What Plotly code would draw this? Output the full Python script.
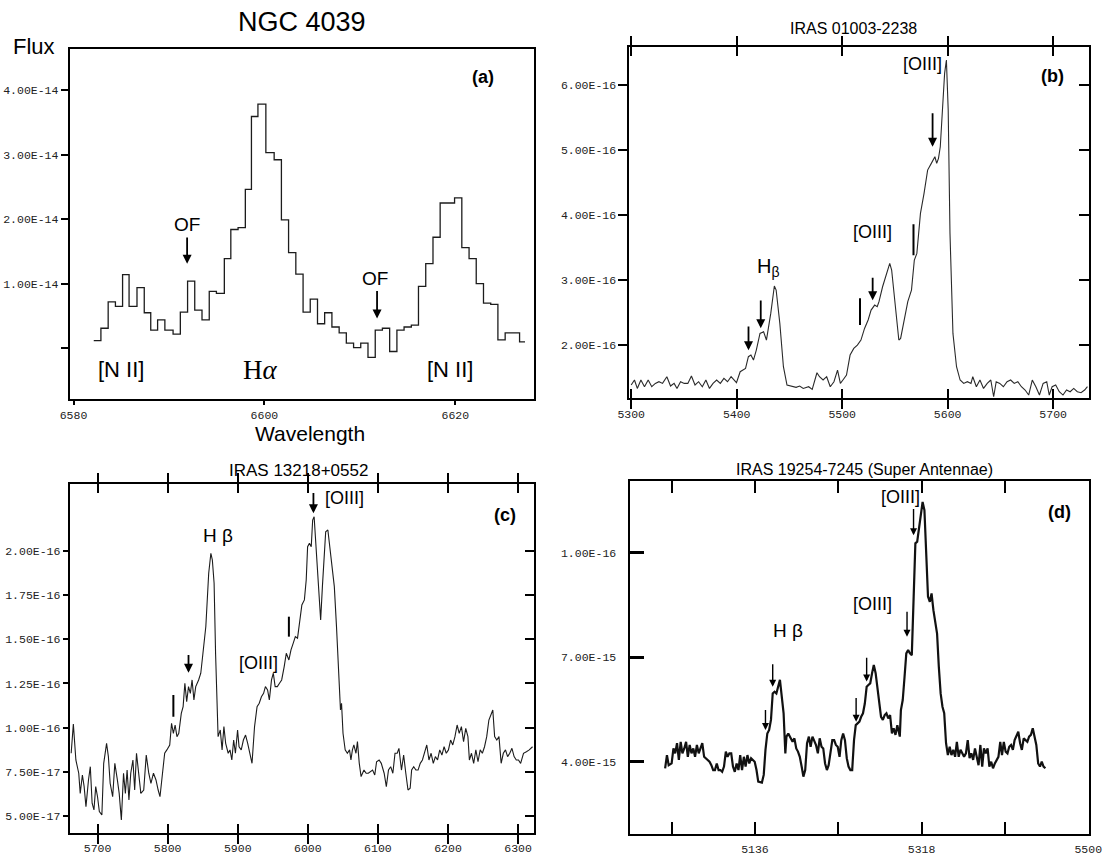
import plotly.graph_objects as go

W, H = 1106, 857

# ---------------- data ----------------
# Panel (a) NGC 4039 : step spectrum, flux in units of 1e-14
WL_A = [6582.12, 6582.87, 6583.63, 6584.39, 6585.14, 6585.82, 6586.65, 6587.41, 6588.09, 6588.81,
        6589.57, 6590.43, 6591.19, 6591.95, 6592.70, 6593.46, 6594.22, 6594.97, 6595.80, 6596.48,
        6597.24, 6598.00, 6598.64, 6599.32, 6600.15, 6601.02, 6601.78, 6602.53, 6603.29, 6604.05,
        6604.80, 6605.56, 6606.31, 6607.07, 6607.83, 6608.58, 6609.34, 6610.09, 6610.85, 6611.61,
        6612.36, 6613.12, 6613.88, 6614.63, 6615.39, 6616.14, 6616.90, 6617.66, 6618.41, 6619.17,
        6619.92, 6620.68, 6621.44, 6622.19, 6622.95, 6623.71, 6624.46, 6625.22, 6625.97, 6626.73,
        6627.30]
FLUX_A = [0.12, 0.31, 0.72, 0.65, 1.14, 0.65, 0.94, 0.55, 0.28, 0.44,
          0.28, 0.22, 0.56, 1.04, 0.59, 0.44, 0.88, 0.85, 1.39, 1.84,
          1.87, 2.46, 3.59, 3.78, 3.03, 2.92, 1.99, 1.48, 1.15, 0.56,
          0.76, 0.38, 0.55, 0.33, 0.24, 0.08, 0.01, 0.08, -0.14, 0.28,
          0.31, -0.05, 0.28, 0.33, 0.36, 0.96, 1.31, 1.72, 2.25, 2.25,
          2.33, 1.56, 1.39, 1.00, 0.70, 0.68, 0.13, 0.24, 0.24, 0.10,
          0.10]

# Panel (b) IRAS 01003-2238 : flux in units of 1e-16
WL_B = [5300.0, 5303.1, 5305.8, 5309.2, 5312.6, 5316.1, 5319.5, 5322.9, 5326.3, 5329.7,
        5333.8, 5337.3, 5340.7, 5343.4, 5346.8, 5350.3, 5353.7, 5357.1, 5360.5, 5363.9,
        5367.4, 5370.8, 5374.2, 5377.6, 5381.0, 5384.5, 5387.9, 5391.3, 5394.7, 5399.8,
        5403.3, 5408.4, 5411.1, 5413.5, 5415.9, 5418.6, 5422.1, 5425.5, 5428.2, 5432.3,
        5435.7, 5437.4, 5440.9, 5444.3, 5447.7, 5452.8, 5456.3, 5459.7, 5463.1, 5468.2,
        5471.6, 5476.1, 5478.5, 5481.9, 5485.3, 5488.7, 5492.2, 5495.6, 5498.3, 5500.7,
        5504.1, 5507.5, 5511.0, 5514.4, 5517.8, 5521.2, 5524.6, 5527.4, 5530.8, 5533.2,
        5534.9, 5538.3, 5541.7, 5545.1, 5546.9, 5549.6, 5552.0, 5553.7, 5555.4, 5558.8,
        5562.2, 5565.7, 5568.4, 5570.8, 5574.2, 5577.6, 5581.0, 5584.5, 5587.9, 5589.6,
        5591.3, 5593.0, 5594.7, 5597.1, 5598.8, 5600.5, 5602.2, 5605.0, 5608.4, 5611.8,
        5615.2, 5618.7, 5622.1, 5623.8, 5627.2, 5630.6, 5634.0, 5637.5, 5640.9, 5643.6,
        5646.0, 5649.4, 5652.8, 5656.3, 5659.7, 5663.1, 5666.5, 5669.9, 5673.4, 5676.8,
        5680.2, 5683.6, 5687.0, 5690.5, 5693.9, 5696.3, 5699.0, 5702.4, 5705.8, 5709.3,
        5712.7, 5716.1, 5719.5, 5722.9, 5726.4, 5729.8, 5732.5]
FLUX_B = [1.385, 1.462, 1.333, 1.462, 1.359, 1.462, 1.359, 1.410, 1.436, 1.410,
          1.513, 1.369, 1.410, 1.333, 1.436, 1.410, 1.410, 1.523, 1.385, 1.436,
          1.359, 1.462, 1.333, 1.410, 1.462, 1.410, 1.487, 1.436, 1.513, 1.421,
          1.590, 1.641, 1.821, 1.846, 1.769, 1.923, 2.179, 2.205, 2.077, 2.487,
          2.908, 2.846, 2.333, 1.667, 1.385, 1.359, 1.349, 1.369, 1.333, 1.359,
          1.318, 1.574, 1.513, 1.462, 1.513, 1.359, 1.436, 1.615, 1.410, 1.462,
          1.538, 1.846, 1.949, 2.000, 2.077, 2.256, 2.385, 2.538, 2.615, 2.590,
          2.667, 2.897, 3.077, 3.256, 3.154, 2.692, 2.308, 2.077, 2.103, 2.385,
          2.667, 2.846, 3.308, 3.410, 4.026, 4.333, 4.692, 4.795, 4.897, 4.795,
          4.872, 5.051, 5.615, 6.179, 6.385, 5.615, 3.718, 2.179, 1.667, 1.462,
          1.410, 1.436, 1.410, 1.513, 1.359, 1.462, 1.333, 1.410, 1.462, 1.205,
          1.436, 1.410, 1.359, 1.436, 1.462, 1.410, 1.436, 1.359, 1.308, 1.231,
          1.462, 1.359, 1.231, 1.410, 1.436, 1.231, 1.359, 1.385, 1.282, 1.231,
          1.308, 1.282, 1.333, 1.282, 1.267, 1.308, 1.359]

# Panel (c) IRAS 13218+0552 : flux in units of 1e-16
WL_C = [5662.4, 5665.5, 5669.1, 5673.2, 5675.3, 5678.4, 5680.9, 5683.5, 5687.1, 5689.7,
        5692.3, 5694.9, 5697.4, 5700.0, 5702.6, 5706.2, 5708.8, 5712.9, 5715.5, 5718.0,
        5721.6, 5724.7, 5728.3, 5730.9, 5734.0, 5737.1, 5739.7, 5742.2, 5744.8, 5747.4,
        5750.5, 5753.0, 5755.6, 5758.2, 5761.8, 5765.9, 5769.5, 5773.1, 5776.2, 5779.8,
        5783.4, 5786.5, 5789.1, 5792.7, 5795.8, 5798.9, 5803.0, 5805.6, 5808.2, 5810.7,
        5813.3, 5815.9, 5819.5, 5822.1, 5824.6, 5827.2, 5829.8, 5832.4, 5834.9, 5837.5,
        5840.1, 5844.2, 5847.3, 5850.4, 5854.5, 5858.6, 5861.7, 5863.8, 5866.3, 5868.4,
        5870.0, 5872.0, 5875.1, 5877.7, 5880.3, 5882.8, 5886.4, 5889.0, 5891.6, 5894.2,
        5896.7, 5899.8, 5901.9, 5905.0, 5908.1, 5911.2, 5914.2, 5917.3, 5920.4, 5924.0,
        5927.6, 5930.7, 5933.8, 5936.9, 5939.5, 5942.6, 5945.1, 5948.2, 5950.8, 5953.4,
        5956.5, 5959.6, 5962.7, 5966.3, 5969.3, 5973.0, 5976.0, 5979.1, 5982.2, 5985.3,
        5988.4, 5991.5, 5995.1, 5997.7, 5999.7, 6002.3, 6004.9, 6006.9, 6009.0, 6011.1,
        6014.2, 6016.2, 6018.3, 6020.8, 6023.4, 6025.5, 6028.6, 6031.7, 6034.8, 6037.8,
        6040.9, 6044.0, 6046.6, 6048.1, 6050.2, 6053.3, 6056.4, 6059.5, 6061.5, 6063.6,
        6065.7, 6068.7, 6070.8, 6073.4, 6076.0, 6080.1, 6083.2, 6086.3, 6089.3, 6092.4,
        6095.5, 6098.1, 6101.7, 6104.8, 6108.9, 6112.0, 6115.1, 6118.2, 6121.3, 6124.4,
        6127.5, 6130.0, 6133.6, 6136.7, 6139.8, 6142.9, 6146.0, 6148.1, 6151.1, 6154.2,
        6157.3, 6160.4, 6163.5, 6166.6, 6169.7, 6172.8, 6175.9, 6179.0, 6182.0, 6185.1,
        6188.2, 6191.3, 6194.4, 6197.5, 6200.6, 6203.7, 6206.8, 6209.9, 6213.0, 6216.0,
        6219.1, 6222.2, 6225.3, 6228.4, 6230.5, 6233.5, 6236.6, 6239.7, 6242.8, 6245.9,
        6249.0, 6252.1, 6255.2, 6258.3, 6261.4, 6263.9, 6266.5, 6269.6, 6272.7, 6275.8,
        6278.9, 6282.0, 6285.0, 6288.1, 6291.2, 6294.3, 6297.4, 6300.5, 6303.6, 6307.7,
        6311.8, 6315.9, 6320.6]
FLUX_C = [0.855, 1.021, 0.817, 0.742, 0.628, 0.732, 0.666, 0.553, 0.704, 0.779,
          0.572, 0.534, 0.666, 0.609, 0.525, 0.506, 0.798, 0.911, 0.836, 0.685,
          0.609, 0.798, 0.704, 0.628, 0.477, 0.742, 0.628, 0.760, 0.591, 0.742,
          0.817, 0.647, 0.855, 0.742, 0.628, 0.647, 0.845, 0.742, 0.685, 0.742,
          0.704, 0.647, 0.609, 0.742, 0.855, 0.874, 0.902, 1.025, 0.968, 1.015,
          0.949, 0.968, 1.081, 1.119, 1.251, 1.147, 1.232, 1.194, 1.270, 1.157,
          1.232, 1.270, 1.308, 1.421, 1.572, 1.874, 1.987, 1.949, 1.817, 1.421,
          1.157, 0.949, 0.987, 0.874, 1.006, 0.911, 0.855, 0.874, 0.817, 0.930,
          0.855, 0.987, 0.892, 0.874, 0.930, 0.958, 0.911, 0.855, 0.798, 1.006,
          1.119, 1.138, 1.175, 1.194, 1.232, 1.213, 1.157, 1.270, 1.308, 1.232,
          1.232, 1.251, 1.270, 1.345, 1.421, 1.383, 1.440, 1.477, 1.515, 1.506,
          1.609, 1.694, 1.723, 1.836, 2.024, 2.043, 2.024, 2.175, 2.194, 2.062,
          1.836, 1.760, 1.609, 1.798, 1.949, 2.109, 2.119, 2.006, 1.930, 1.798,
          1.572, 1.308, 1.100, 1.138, 0.968, 0.874, 0.855, 0.874, 0.817, 0.874,
          0.902, 0.855, 0.921, 0.798, 0.723, 0.760, 0.742, 0.742, 0.751, 0.760,
          0.732, 0.807, 0.817, 0.798, 0.742, 0.666, 0.760, 0.779, 0.742, 0.855,
          0.855, 0.883, 0.760, 0.845, 0.742, 0.647, 0.657, 0.760, 0.779, 0.760,
          0.760, 0.798, 0.817, 0.855, 0.902, 0.817, 0.855, 0.798, 0.836, 0.817,
          0.874, 0.845, 0.892, 0.855, 0.874, 0.930, 0.902, 0.949, 1.015, 0.968,
          1.006, 0.921, 0.996, 0.949, 0.817, 0.855, 0.798, 0.874, 0.807, 0.874,
          0.855, 0.892, 0.949, 1.043, 1.081, 1.100, 0.949, 0.930, 0.949, 0.798,
          0.855, 0.874, 0.836, 0.855, 0.883, 0.836, 0.817, 0.817, 0.798, 0.855,
          0.864, 0.874, 0.892]

# Panel (d) IRAS 19254-7245 : flux in units of 1e-15
WL_D = [5037.9, 5039.9, 5041.8, 5045.0, 5047.0, 5048.9, 5050.9, 5052.9, 5054.9, 5056.8,
        5058.8, 5060.8, 5062.7, 5064.7, 5066.7, 5068.7, 5070.6, 5072.6, 5074.6, 5076.6,
        5078.5, 5080.5, 5082.5, 5084.4, 5086.4, 5088.4, 5090.4, 5092.3, 5094.3, 5096.3,
        5098.2, 5100.2, 5102.2, 5104.2, 5106.1, 5108.1, 5110.1, 5112.0, 5114.0, 5116.0,
        5118.0, 5119.9, 5121.9, 5123.9, 5125.8, 5127.8, 5129.8, 5131.8, 5133.7, 5135.7,
        5137.7, 5139.6, 5143.6, 5145.6, 5147.5, 5149.5, 5151.5, 5153.5, 5155.4, 5157.4,
        5159.4, 5161.3, 5163.3, 5165.3, 5167.3, 5169.2, 5170.4, 5172.4, 5175.1, 5177.1,
        5179.1, 5181.1, 5183.0, 5185.0, 5187.0, 5188.9, 5190.9, 5192.9, 5194.9, 5196.8,
        5198.8, 5200.8, 5202.7, 5204.7, 5206.7, 5208.7, 5210.6, 5212.6, 5214.6, 5216.5,
        5218.5, 5220.5, 5222.5, 5224.4, 5226.4, 5228.4, 5230.3, 5232.3, 5234.3, 5236.3,
        5238.2, 5240.2, 5242.2, 5244.2, 5246.1, 5248.1, 5250.1, 5252.0, 5254.0, 5256.0,
        5258.0, 5259.9, 5261.9, 5263.9, 5265.8, 5267.8, 5269.8, 5271.8, 5273.7, 5275.7,
        5277.7, 5279.6, 5281.6, 5283.6, 5285.6, 5287.5, 5289.5, 5291.5, 5294.2, 5295.4,
        5297.4, 5299.4, 5301.3, 5303.3, 5305.3, 5307.3, 5309.2, 5311.2, 5313.2, 5315.1,
        5317.1, 5319.1, 5321.1, 5323.0, 5325.0, 5327.0, 5328.9, 5330.9, 5332.9, 5334.9,
        5336.8, 5338.8, 5340.8, 5342.7, 5344.7, 5346.7, 5348.7, 5350.6, 5352.6, 5354.6,
        5356.5, 5358.5, 5360.5, 5362.5, 5364.4, 5366.4, 5368.4, 5370.4, 5372.3, 5374.3,
        5376.3, 5378.2, 5380.2, 5382.2, 5384.2, 5386.1, 5388.1, 5390.1, 5392.0, 5394.0,
        5396.0, 5398.0, 5399.9, 5401.9, 5403.9, 5405.8, 5407.8, 5409.8, 5411.8, 5413.7,
        5415.7, 5417.7, 5419.6, 5421.6, 5423.6, 5425.6, 5427.5, 5429.5, 5431.5, 5433.5,
        5435.4, 5437.4, 5439.4, 5441.3, 5443.3, 5445.3, 5447.3, 5449.2, 5451.2, 5453.2]
FLUX_D = [3.81, 4.19, 3.90, 3.95, 4.38, 4.24, 4.53, 4.05, 4.57, 4.24,
          4.38, 4.57, 4.14, 4.48, 4.24, 4.38, 4.14, 4.48, 4.24, 4.43,
          4.53, 4.14, 4.10, 4.05, 4.00, 3.90, 3.76, 3.76, 3.95, 3.76,
          3.76, 3.71, 3.86, 4.29, 4.14, 4.24, 4.24, 3.86, 3.71, 3.95,
          3.76, 4.19, 3.76, 4.14, 3.86, 4.19, 3.95, 4.10, 4.05, 4.00,
          3.76, 3.43, 3.40, 3.62, 4.34, 4.81, 4.91, 5.20, 5.96, 6.01,
          5.96, 6.15, 6.35, 5.87, 5.39, 4.24, 4.72, 4.81, 4.67, 4.57,
          4.67, 4.38, 4.29, 4.14, 3.86, 3.57, 3.76, 4.53, 4.72, 4.43,
          4.72, 4.62, 4.48, 4.24, 4.67, 4.43, 4.38, 3.95, 3.76, 3.90,
          4.29, 4.62, 4.62, 4.48, 4.43, 4.14, 4.62, 4.81, 4.62, 4.10,
          3.86, 3.76, 3.76, 4.62, 5.05, 5.10, 5.15, 5.29, 5.39, 5.67,
          6.15, 6.20, 6.25, 6.54, 6.78, 6.54, 6.06, 5.58, 5.29, 5.20,
          5.34, 5.39, 5.24, 5.34, 4.81, 4.96, 4.77, 5.05, 4.72, 5.48,
          5.77, 6.44, 7.11, 7.21, 7.11, 7.06, 8.55, 10.27, 10.32, 10.65,
          11.03, 11.46, 11.22, 9.79, 8.74, 8.59, 8.83, 8.35, 8.07, 7.68,
          6.73, 5.96, 5.58, 5.39, 4.53, 4.19, 4.43, 4.19, 4.34, 4.14,
          4.57, 4.14, 4.34, 4.24, 4.14, 4.24, 4.62, 4.10, 4.24, 4.05,
          4.38, 4.14, 3.90, 4.48, 3.86, 4.38, 4.24, 4.38, 3.86, 4.00,
          3.81, 3.95, 4.05, 4.14, 4.57, 4.19, 4.57, 4.29, 4.24, 4.43,
          4.48, 4.34, 4.62, 4.72, 4.86, 4.53, 4.34, 4.67, 4.62, 4.57,
          4.72, 4.77, 4.96, 4.72, 4.48, 3.95, 3.86, 4.00, 3.86, 3.81]

# tick values / labels
XT_A = [6580, 6600, 6620]
YT_A = [0, 1, 2, 3, 4]
YL_A = ["", "1.00E-14", "2.00E-14", "3.00E-14", "4.00E-14"]
XT_B = [5300, 5400, 5500, 5600, 5700]
YT_B = [2, 3, 4, 5, 6]
YL_B = ["2.00E-16", "3.00E-16", "4.00E-16", "5.00E-16", "6.00E-16"]
XT_C = [5700, 5800, 5900, 6000, 6100, 6200, 6300]
YT_C = [0.5, 0.75, 1.0, 1.25, 1.5, 1.75, 2.0]
YL_C = ["5.00E-17", "7.50E-17", "1.00E-16", "1.25E-16", "1.50E-16", "1.75E-16", "2.00E-16"]
XT_D = [5045, 5136, 5227, 5318, 5409, 5500]
XL_D = ["", "5136", "", "5318", "", "5500"]
YT_D = [4, 7, 10]
YL_D = ["4.00E-15", "7.00E-15", "1.00E-16"]

# ---------------- layout helpers (page pixels -> paper fractions) ----------------
def dom_x(p0, p1):
    return [p0 / W, p1 / W]

def dom_y(top, bottom):
    return [1 - bottom / H, 1 - top / H]

SANS = "Liberation Sans"
MONO = "Liberation Mono"
TICKFONT = dict(family=MONO, size=11.5, color="#222")

fig = go.Figure()
fig.add_trace(go.Scatter(x=WL_A, y=FLUX_A, mode="lines", line=dict(color="#1c1c1c", width=1.3, shape="hv"),
                         xaxis="x", yaxis="y", showlegend=False, hoverinfo="skip"))
fig.add_trace(go.Scatter(x=WL_B, y=FLUX_B, mode="lines", line=dict(color="#2a2a2a", width=1.1),
                         xaxis="x2", yaxis="y2", showlegend=False, hoverinfo="skip"))
fig.add_trace(go.Scatter(x=WL_C, y=FLUX_C, mode="lines", line=dict(color="#1c1c1c", width=1.1),
                         xaxis="x3", yaxis="y3", showlegend=False, hoverinfo="skip"))
fig.add_trace(go.Scatter(x=WL_D, y=FLUX_D, mode="lines", line=dict(color="#111", width=2.2),
                         xaxis="x4", yaxis="y4", showlegend=False, hoverinfo="skip"))
# empty traces to activate overlay axes (right-hand inside ticks)
fig.add_trace(go.Scatter(x=[None], y=[None], xaxis="x2", yaxis="y5", showlegend=False, hoverinfo="skip"))
fig.add_trace(go.Scatter(x=[None], y=[None], xaxis="x3", yaxis="y6", showlegend=False, hoverinfo="skip"))

common = dict(showline=True, linecolor="black", linewidth=2, showgrid=False, zeroline=False,
              tickfont=TICKFONT, tickcolor="black", fixedrange=True, automargin=False)

DA_X, DA_Y = dom_x(69.7, 533.6), dom_y(49, 399.3)
DB_X, DB_Y = dom_x(629.4, 1088.5), dom_y(46.7, 397.7)
DC_X, DC_Y = dom_x(69.7, 533.6), dom_y(484, 833.3)
DD_X, DD_Y = dom_x(629.5, 1088.7), dom_y(481, 834.3)

overlay = dict(showticklabels=False, showline=False, showgrid=False, zeroline=False,
               fixedrange=True, automargin=False, tickcolor="black")

fig.update_layout(
    template="none",
    width=W, height=H, autosize=False,
    margin=dict(l=0, r=0, t=0, b=0, pad=0),
    paper_bgcolor="white", plot_bgcolor="white",
    xaxis=dict(**common, domain=DA_X, anchor="y", range=[6579.6, 6628.2], tickvals=XT_A,
               ticks="outside", ticklen=4, tickwidth=1.5, mirror=True),
    yaxis=dict(**common, domain=DA_Y, anchor="x", range=[-0.79, 4.635], tickvals=YT_A, ticktext=YL_A,
               ticks="outside", ticklen=7, tickwidth=1.5, mirror=True),
    xaxis2=dict(**common, domain=DB_X, anchor="y2", range=[5298.3, 5733.5], tickvals=XT_B,
                ticks="inside", ticklen=9, tickwidth=2, mirror="allticks", ticklabelstandoff=4),
    yaxis2=dict(**common, domain=DB_Y, anchor="x2", range=[1.19, 6.59], tickvals=YT_B, ticktext=YL_B,
                ticks="outside", ticklen=9, tickwidth=2, mirror=True),
    yaxis5=dict(**overlay, overlaying="y2", anchor="x2", side="right", range=[1.19, 6.59], tickvals=YT_B,
                ticks="inside", ticklen=10, tickwidth=2),
    xaxis3=dict(**common, domain=DC_X, anchor="y3", range=[5660.3, 6322.1], tickvals=XT_C,
                ticks="inside", ticklen=9, tickwidth=2, mirror="allticks", ticklabelstandoff=3),
    yaxis3=dict(**common, domain=DC_Y, anchor="x3", range=[0.402, 2.379], tickvals=YT_C, ticktext=YL_C,
                ticks="outside", ticklen=5, tickwidth=2, mirror=True),
    yaxis6=dict(**overlay, overlaying="y3", anchor="x3", side="right", range=[0.402, 2.379], tickvals=YT_C,
                ticks="inside", ticklen=9, tickwidth=2),
    xaxis4=dict(**common, domain=DD_X, anchor="y4", range=[4999, 5500.5], tickvals=XT_D, ticktext=XL_D,
                ticks="inside", ticklen=12, tickwidth=2, mirror="allticks", ticklabelstandoff=3),
    yaxis4=dict(**common, domain=DD_Y, anchor="x4", range=[1.915, 12.06], tickvals=YT_D, ticktext=YL_D,
                ticks="inside", ticklen=14, tickwidth=3, mirror=True, ticklabelstandoff=9),
)

ann = []

def label(text, x, y, ax, size=18, family=SANS, bold=False):
    ann.append(dict(text=f"<b>{text}</b>" if bold else text, x=x, y=y,
                    xref=f"x{ax}" if ax > 1 else "x", yref=f"y{ax}" if ax > 1 else "y",
                    showarrow=False, xanchor="center", yanchor="middle",
                    font=dict(family=family, size=size, color="black")))

def arrow(x, y_head, y_tail, ax, width=1.8, head=2, size=1.0):
    xr = f"x{ax}" if ax > 1 else "x"
    yr = f"y{ax}" if ax > 1 else "y"
    ann.append(dict(text="", x=x, y=y_head, ax=x, ay=y_tail, xref=xr, yref=yr, axref=xr, ayref=yr,
                    showarrow=True, arrowhead=head, arrowsize=size, arrowwidth=width,
                    arrowcolor="black", standoff=0, startstandoff=0))

shapes = []

def bar(x, y0, y1, ax, width=2):
    xr = f"x{ax}" if ax > 1 else "x"
    yr = f"y{ax}" if ax > 1 else "y"
    shapes.append(dict(type="line", xref=xr, yref=yr, x0=x, x1=x, y0=y0, y1=y1,
                       line=dict(color="black", width=width)))

# panel (a)
label("(a)", 6622.9, 4.2, 1, size=18, bold=True)
label("OF", 6591.9, 1.92, 1, size=19)
arrow(6591.9, 1.31, 1.74, 1)
label("OF", 6611.6, 1.08, 1, size=19)
arrow(6611.8, 0.46, 0.91, 1)
label("[N II]", 6584.95, -0.33, 1, size=22)
label("H<i>α</i>", 6599.6, -0.33, 1, size=27, family="Liberation Serif")
label("[N II]", 6619.4, -0.33, 1, size=22)

# panel (b)
label("(b)", 5699.3, 6.14, 2, size=18, bold=True)
label("[OIII]", 5576.1, 6.33, 2, size=18)
arrow(5585.7, 5.05, 5.59, 2)
label("[OIII]", 5528.9, 3.74, 2, size=18)
bar(5567.6, 3.38, 3.86, 2)
label("H<sub>β</sub>", 5429.7, 3.2, 2, size=20)
arrow(5422.8, 2.26, 2.71, 2)
arrow(5411.2, 1.92, 2.31, 2)
bar(5516.9, 2.31, 2.72, 2)
arrow(5528.9, 2.69, 3.06, 2)

# panel (c)
label("(c)", 6282, 2.204, 3, size=18, bold=True)
label("H β", 5872.5, 2.09, 3, size=19)
label("[OIII]", 6052.8, 2.298, 3, size=18)
arrow(6008, 2.213, 2.336, 3)
label("[OIII]", 5929.2, 1.364, 3, size=18)
bar(5973, 1.515, 1.628, 3)
arrow(5829.8, 1.31, 1.42, 3)
bar(5808.2, 1.062, 1.185, 3)

# panel (d)
label("(d)", 5469, 11.18, 4, size=18, bold=True)
label("[OIII]", 5295.4, 11.61, 4, size=18)
arrow(5309.2, 10.5, 11.3, 4, width=1.4)
label("[OIII]", 5264.7, 8.52, 4, size=18)
arrow(5302.1, 7.59, 8.35, 4, width=1.4)
label("H β", 5172.4, 7.76, 4, size=19)
arrow(5155.4, 6.15, 6.84, 4, width=1.4)
arrow(5147.5, 4.91, 5.53, 4, width=1.4)
arrow(5258, 6.30, 7.03, 4, width=1.4)
arrow(5246.5, 5.15, 5.87, 4, width=1.4)

# titles and axis words (page pixel positions)
def paper_text(text, px, py, size, family=SANS):
    ann.append(dict(text=text, x=px / W, y=1 - py / H, xref="paper", yref="paper",
                    showarrow=False, xanchor="center", yanchor="middle",
                    font=dict(family=family, size=size, color="black")))

paper_text("NGC 4039", 302, 22, 27)
paper_text("Flux", 34, 47, 22)
paper_text("Wavelength", 310, 433, 21)
paper_text("IRAS 01003-2238", 853, 28, 16)
paper_text("IRAS 13218+0552", 298, 471, 17)
paper_text("IRAS 19254-7245 (Super Antennae)", 864, 469, 16)

fig.update_layout(annotations=ann, shapes=shapes)
# remove the browser's default 8 px body margin so the figure fills the window exactly; hide the mode bar
fig.write_html("out.html", config={"displayModeBar": False},
               post_script="document.body.style.margin='0';document.body.style.overflow='hidden';")
